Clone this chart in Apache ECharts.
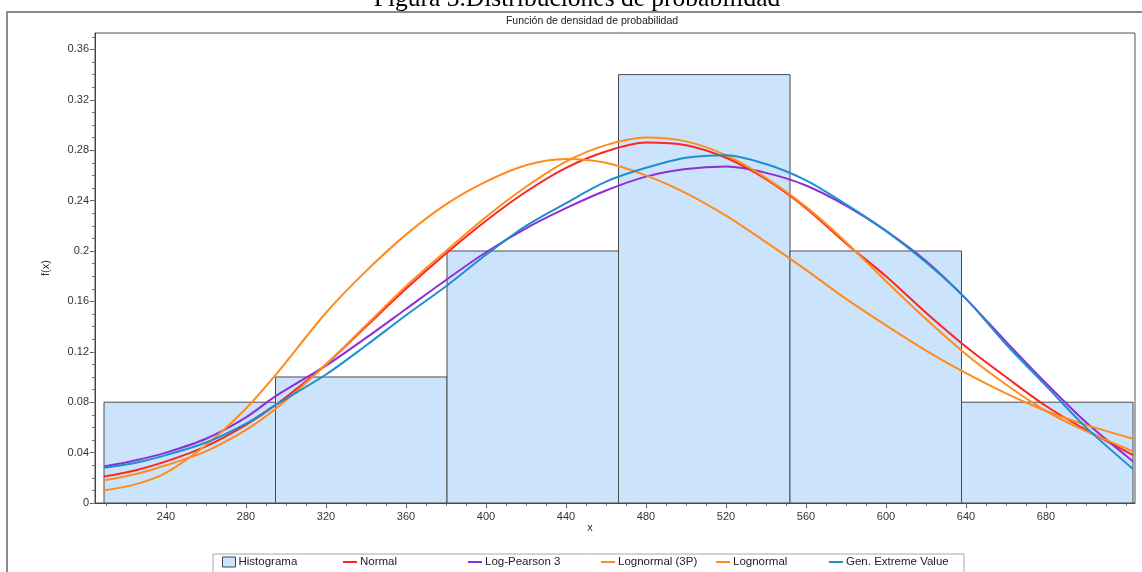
<!DOCTYPE html>
<html>
<head>
<meta charset="utf-8">
<script src="https://cdn.jsdelivr.net/npm/echarts@6/dist/echarts.min.js"></script>
<style>
html, body { margin: 0; padding: 0; background: #fff; }
#chart { width: 1142px; height: 572px; }
</style>
</head>
<body>
<div id="chart"></div>
<script>
// histogram bins
var binEdges = [209, 294.75, 380.5, 466.25, 552, 637.75, 723.5];
var binHeights = [0.08, 0.10, 0.20, 0.34, 0.20, 0.08];

// x positions where the fitted curves were read
var xs = [209, 225, 240, 260, 280, 295, 320, 340, 360, 380, 400, 420, 440, 460, 480, 500, 520, 540, 560, 580, 600, 620, 640, 660, 680, 700, 723.5];

var normal      = [0.021, 0.026, 0.033, 0.045, 0.062, 0.078, 0.110, 0.140, 0.170, 0.198, 0.224, 0.247, 0.266, 0.279, 0.286, 0.284, 0.274, 0.257, 0.234, 0.206, 0.180, 0.151, 0.124, 0.100, 0.077, 0.058, 0.038];
var logPearson3 = [0.029, 0.034, 0.040, 0.051, 0.068, 0.085, 0.109, 0.131, 0.154, 0.177, 0.199, 0.218, 0.234, 0.248, 0.259, 0.265, 0.267, 0.262, 0.252, 0.236, 0.216, 0.192, 0.162, 0.128, 0.095, 0.064, 0.033];
var lognormal3P = [0.018, 0.023, 0.030, 0.041, 0.058, 0.075, 0.110, 0.141, 0.172, 0.200, 0.227, 0.251, 0.271, 0.284, 0.290, 0.287, 0.276, 0.258, 0.235, 0.207, 0.176, 0.146, 0.118, 0.094, 0.073, 0.057, 0.041];
var lognormal   = [0.010, 0.015, 0.024, 0.046, 0.075, 0.102, 0.151, 0.184, 0.213, 0.237, 0.255, 0.268, 0.273, 0.270, 0.260, 0.246, 0.228, 0.207, 0.185, 0.162, 0.141, 0.121, 0.103, 0.087, 0.073, 0.062, 0.051];
var genExtreme  = [0.028, 0.032, 0.038, 0.048, 0.063, 0.078, 0.102, 0.125, 0.149, 0.172, 0.197, 0.220, 0.238, 0.255, 0.266, 0.274, 0.276, 0.269, 0.256, 0.237, 0.216, 0.191, 0.162, 0.126, 0.093, 0.060, 0.027];

// tick labels
var xTicks = [240, 280, 320, 360, 400, 440, 480, 520, 560, 600, 640, 680];
var yTicks = [0, 0.04, 0.08, 0.12, 0.16, 0.2, 0.24, 0.28, 0.32, 0.36];

var xMin = 204.5, xMax = 724.5, yMax = 0.373;
var font = 'Liberation Sans, Arial, sans-serif';

var xMinor = [];
for (var v = 210; v <= 720; v += 10) xMinor.push(v);
var yMinor = [];
for (var k = 0; k <= 37; k++) yMinor.push(+(k * 0.01).toFixed(2));

function pts(arr) {
    return xs.map(function (x, i) { return [x, arr[i]]; });
}

var histData = binHeights.map(function (h, i) { return [binEdges[i], binEdges[i + 1], h]; });

var myChart = echarts.init(document.getElementById('chart'), null, { renderer: 'canvas' });

function lineSeries(name, arr, color) {
    return {
        name: name,
        type: 'line',
        data: pts(arr),
        smooth: 0.3,
        symbol: 'none',
        animation: false,
        itemStyle: { color: color },
        lineStyle: { color: color, width: 2 },
        z: 3
    };
}

function legendAt(name, left, isHist) {
    var lg = {
        data: [name],
        left: left,
        top: 556,
        padding: 0,
        icon: 'rect',
        itemWidth: isHist ? 13 : 14,
        itemHeight: isHist ? 10 : 2,
        textStyle: { fontFamily: font, fontSize: 11.5, color: '#222', padding: [0, 0, 0, -2] },
        selectedMode: false
    };
    if (isHist) lg.itemStyle = { borderColor: '#444', borderWidth: 1 };
    return lg;
}

var option = {
    backgroundColor: '#fff',
    animation: false,
    grid: {
        left: 95,
        top: 33,
        width: (xMax - xMin) * 2,
        height: 470,
        show: true,
        borderColor: '#555',
        borderWidth: 1,
        backgroundColor: '#fff'
    },
    xAxis: [{
        type: 'value',
        min: xMin,
        max: xMax,
        axisLine: { show: true, onZero: false, lineStyle: { color: '#444' } },
        axisTick: { show: true, customValues: xTicks, length: 5, lineStyle: { color: '#555' } },
        axisLabel: { customValues: xTicks, color: '#333', fontFamily: font, fontSize: 11, margin: 8 },
        splitLine: { show: false }
    }, {
        type: 'value',
        min: xMin,
        max: xMax,
        position: 'bottom',
        axisLine: { show: false },
        axisTick: { show: true, customValues: xMinor, length: 3, lineStyle: { color: '#777' } },
        axisLabel: { show: false },
        splitLine: { show: false }
    }],
    yAxis: [{
        type: 'value',
        min: 0,
        max: yMax,
        name: 'f(x)',
        nameLocation: 'middle',
        nameGap: 44,
        nameTextStyle: { fontFamily: font, fontSize: 11, color: '#333' },
        axisLine: { show: true, lineStyle: { color: '#444' } },
        axisTick: { show: true, customValues: yTicks, length: 5, lineStyle: { color: '#555' } },
        axisLabel: { customValues: yTicks, color: '#333', fontFamily: font, fontSize: 11, margin: 6 },
        splitLine: { show: false }
    }, {
        type: 'value',
        min: 0,
        max: yMax,
        position: 'left',
        axisLine: { show: false },
        axisTick: { show: true, customValues: yMinor, length: 3, lineStyle: { color: '#777' } },
        axisLabel: { show: false },
        splitLine: { show: false }
    }],
    legend: [
        legendAt('Histograma', 222, true),
        legendAt('Normal', 343),
        legendAt('Log-Pearson 3', 468),
        legendAt('Lognormal (3P)', 601),
        legendAt('Lognormal', 716),
        legendAt('Gen. Extreme Value', 829)
    ],
    graphic: [
        { type: 'rect', shape: { x: 7, y: 12, width: 1160, height: 600 }, style: { fill: null, stroke: '#8a8a8a', lineWidth: 2 }, silent: true, z: -10 },
        { type: 'text', x: 577, y: -1, style: { text: 'Figura 3.Distribuciones de probabilidad', fontFamily: 'Liberation Serif, Times New Roman, serif', fontSize: 25.5, fill: '#000', align: 'center', verticalAlign: 'middle' } },
        { type: 'text', x: 592, y: 21, style: { text: 'Función de densidad de probabilidad', fontFamily: font, fontSize: 10.5, fill: '#222', align: 'center', verticalAlign: 'middle' } },
        { type: 'text', x: 590, y: 528, style: { text: 'x', fontFamily: font, fontSize: 11, fill: '#333', align: 'center', verticalAlign: 'middle' } },
        { type: 'rect', shape: { x: 213, y: 554, width: 751, height: 20 }, style: { fill: null, stroke: '#a8a8a8', lineWidth: 1 }, silent: true }
    ],
    series: [{
        name: 'Histograma',
        type: 'custom',
        data: histData,
        encode: { x: [0, 1], y: 2 },
        itemStyle: { color: '#cce4fb', borderColor: '#444', borderWidth: 1 },
        z: 1,
        renderItem: function (params, api) {
            var p0 = api.coord([api.value(0), api.value(2)]);
            var p1 = api.coord([api.value(1), 0]);
            return {
                type: 'rect',
                shape: { x: p0[0], y: p0[1], width: p1[0] - p0[0], height: p1[1] - p0[1] },
                style: { fill: '#cce4fb', stroke: '#4a4a4a', lineWidth: 1 }
            };
        }
    },
        lineSeries('Normal', normal, '#ff2424'),
        lineSeries('Log-Pearson 3', logPearson3, '#8d2ed6'),
        lineSeries('Lognormal (3P)', lognormal3P, '#ff8c1a'),
        lineSeries('Lognormal', lognormal, '#ff8c1a'),
        lineSeries('Gen. Extreme Value', genExtreme, '#1d8fcc')
    ]
};

myChart.setOption(option);
</script>
</body>
</html>
